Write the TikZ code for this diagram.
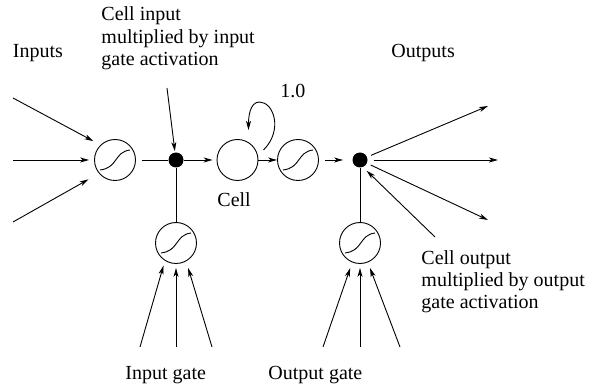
\documentclass[tikz,border=0pt]{standalone}
\usepackage{fontspec}
\setmainfont{Liberation Serif}
\usetikzlibrary{arrows.meta}
\begin{document}
\begin{tikzpicture}[x=1pt,y=-1pt,
  line width=0.9pt,
  unit/.style={circle,draw,minimum size=41pt,inner sep=0pt},
  prod/.style={circle,fill=black,minimum size=15pt,inner sep=0pt},
  arr/.style={-{Stealth[length=9pt,width=5pt,inset=2.5pt]}},
  lbl/.style={font=\fontsize{20}{22.5}\selectfont,inner sep=0pt,align=left}
]
\useasboundingbox (0,0) rectangle (595,390);

% squashing units, memory cell and multiplicative junctions
\node[unit] (sqin)  at (115,160) {};
\node[prod] (pin)   at (176,160) {};
\node[unit] (cell)  at (237.5,160) {};
\node[unit] (sqout) at (298,160) {};
\node[prod] (pout)  at (360,160) {};
\node[unit] (ig)    at (176,243) {};
\node[unit] (og)    at (360,243) {};

% sigmoid glyphs inside the squashing units
\foreach \u in {sqin,sqout,ig,og}
  \draw ([shift={(-15,10)}]\u.center) .. controls +(18,-2) and +(-16,2) .. ([shift={(15,-10)}]\u.center);

% free ends of the connectors
\coordinate (in1) at (13,98);
\coordinate (in2) at (13,160);
\coordinate (in3) at (13,222);
\coordinate (out1) at (488,106);
\coordinate (out2) at (498,160);
\coordinate (out3) at (488,220);
\coordinate (ig1) at (140,347);
\coordinate (ig2) at (176,347);
\coordinate (ig3) at (212,347);
\coordinate (og1) at (323,347);
\coordinate (og2) at (360,347);
\coordinate (og3) at (400,347);
\coordinate (notein) at (167,88);
\coordinate (noteout) at (435,237);

% inputs
\draw[arr,shorten >=8pt] (in1) -- (sqin.134);
\draw[arr,shorten >=5pt] (in2) -- (sqin);
\draw[arr,shorten >=12pt] (in3) -- (sqin.220);

% main path
\draw[shorten <=6pt] (sqin) -- (pin);
\draw[arr,shorten >=4pt] (pin) -- (cell);
\draw[arr] (cell) -- (sqout);
\draw[arr,shorten <=6pt,shorten >=9pt] (sqout) -- (pout);

% gates into the junctions
\draw (ig) -- (pin);
\draw (og) -- (pout);

% outputs
\draw[arr,shorten <=4pt] (pout) -- (out1);
\draw[arr,shorten <=6pt] (pout) -- (out2);
\draw[arr,shorten <=4pt] (pout) -- (out3);

% gate inputs
\draw[arr,shorten >=5pt] (ig1) -- (ig.238);
\draw[arr,shorten >=4pt] (ig2) -- (ig);
\draw[arr,shorten >=7pt] (ig3) -- (ig.299);
\draw[arr,shorten >=6pt] (og1) -- (og.248);
\draw[arr,shorten >=4pt] (og2) -- (og);
\draw[arr,shorten >=6pt] (og3) -- (og.292);

% annotation pointers
\draw[arr,shorten >=1pt] (notein) -- (pin);
\draw[arr,shorten >=5pt] (noteout) -- (pout.293);

% self-recurrent connection of the cell
\draw[arr] ([shift={(26,-10)}]cell.center) .. controls +(20,-20) and +(14,0) ..
  ([shift={(22,-58)}]cell.center) .. controls +(-10,0) and +(0,-12) ..
  ([shift={(11,-30)}]cell.center);

% labels (multi-line blocks are placed by the baseline of their last line)
\node[lbl,anchor=base west] (tin) at (12.5,58) {Inputs};
\node[lbl,anchor=base west] (tout) at (391,58) {Outputs};
\node[lbl,anchor=base west] (tw) at (280,98) {1.0};
\node[lbl,anchor=base west] (tcell) at (217,207) {Cell};
\node[lbl,anchor=base west] (tig) at (125,380) {Input gate};
\node[lbl,anchor=base west] (tog) at (268,380) {Output gate};
\node[lbl,anchor=base west] (nin) at (101,66) {Cell input\\multiplied by input\\gate activation};
\node[lbl,anchor=base west] (nout) at (421,309) {Cell output\\multiplied by output\\gate activation};
\end{tikzpicture}
\end{document}
